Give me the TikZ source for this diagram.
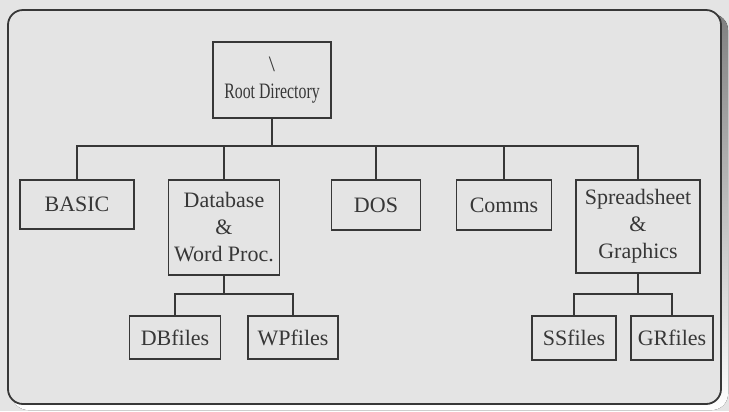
\documentclass[tikz,border=0pt]{standalone}
\usepackage{fontspec}
\setmainfont{Liberation Serif}
\usepackage{graphicx}

\definecolor{paper}{RGB}{228,228,228}
\definecolor{ink}{RGB}{55,55,55}
\definecolor{shade}{RGB}{45,45,45}

\tikzset{
  folder/.style={draw=ink, line width=1.8bp, text=ink, align=center,
    inner sep=0pt, font=\fontsize{22bp}{27bp}\selectfont},
  branch/.style={draw=ink, line width=1.8bp},
}

\begin{document}
\begin{tikzpicture}[x=1bp,y=-1bp]

  % Sfondo e cornice
  \fill[paper] (0,0) rectangle (729,411);
  \useasboundingbox (0,0) rectangle (729,411);
  \fill[shade, rounded corners=16bp] (12,14) rectangle (728,410);
  \filldraw[fill=paper, draw=ink, line width=1.8bp, rounded corners=15bp] (8,10) rectangle (721,404);

  % Linee dei rami
  \coordinate (bar) at (0,146);
  \coordinate (sub) at (0,294);

  % Radice
  \node[folder, minimum width=118bp, minimum height=76bp] (root) at (272,80)
    {\textbackslash\\ \scalebox{0.72}[1]{Root Directory}};

  % Primo livello
  \node[folder, minimum width=114bp, minimum height=49bp] (basic) at (77,204.5) {BASIC};
  \node[folder, minimum width=111bp, minimum height=95bp] (database) at (224,227.5) {Database\\ \&\\ Word Proc.};
  \node[folder, minimum width=89bp, minimum height=50bp] (dos) at (376,205) {DOS};
  \node[folder, minimum width=95bp, minimum height=50bp] (comms) at (504,205) {Comms};
  \node[folder, minimum width=124bp, minimum height=93bp] (spread) at (638,226.5) {Spreadsheet\\ \&\\ Graphics};

  % Secondo livello
  \node[folder, minimum width=91bp, minimum height=43bp] (dbfiles) at (175,337.5) {DBfiles};
  \node[folder, minimum width=90bp, minimum height=43bp] (wpfiles) at (293,337.5) {WPfiles};
  \node[folder, minimum width=84bp, minimum height=44bp] (ssfiles) at (574,338) {SSfiles};
  \node[folder, minimum width=82bp, minimum height=44bp] (grfiles) at (672,338) {GRfiles};

  % Collegamenti
  \foreach \c in {basic,database,dos,comms,spread}
    \draw[branch] (root.south) -- (root.south |- bar) -| (\c.north);
  \foreach \c in {dbfiles,wpfiles}
    \draw[branch] (database.south) -- (database.south |- sub) -| (\c.north);
  \foreach \c in {ssfiles,grfiles}
    \draw[branch] (spread.south) -- (spread.south |- sub) -| (\c.north);

\end{tikzpicture}
\end{document}
